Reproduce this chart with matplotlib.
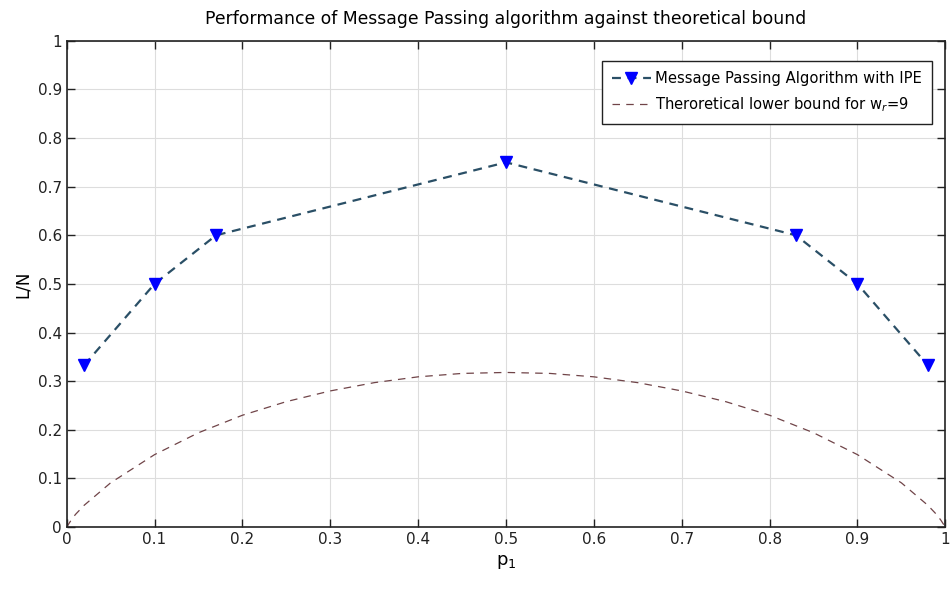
import matplotlib.pyplot as plt

# Message passing results
mp_p1 = [0.02, 0.1, 0.17, 0.5, 0.83, 0.9, 0.98]
mp_ln = [0.333, 0.5, 0.6, 0.75, 0.6, 0.5, 0.333]

# theoretical lower bound curve
tb_p1 = [0.0, 0.005, 0.01, 0.02, 0.05, 0.1, 0.15, 0.2, 0.25, 0.3, 0.35, 0.4, 0.45, 0.5,
         0.55, 0.6, 0.65, 0.7, 0.75, 0.8, 0.85, 0.9, 0.95, 0.98, 0.99, 0.995, 1.0]
tb_ln = [0.0, 0.014, 0.026, 0.045, 0.091, 0.149, 0.194, 0.230, 0.258, 0.280, 0.297, 0.309, 0.316, 0.318,
         0.316, 0.309, 0.297, 0.280, 0.258, 0.230, 0.194, 0.149, 0.091, 0.045, 0.026, 0.014, 0.0]

ticks = [0, 0.1, 0.2, 0.3, 0.4, 0.5, 0.6, 0.7, 0.8, 0.9, 1]
tick_labels = ['0', '0.1', '0.2', '0.3', '0.4', '0.5', '0.6', '0.7', '0.8', '0.9', '1']

fig = plt.figure(figsize=(9.52, 5.99), dpi=100)
ax = fig.add_axes([0.070, 0.120, 0.923, 0.812])

ax.plot(mp_p1, mp_ln, linestyle=(0, (4, 3)), color='#2a4f66', linewidth=1.6,
        marker='v', markersize=8, markerfacecolor='#0000ff', markeredgecolor='#0000ff',
        label='Message Passing Algorithm with IPE')
ax.plot(tb_p1, tb_ln, linestyle=(0, (6, 5)), color='#704448', linewidth=0.9,
        label='Theroretical lower bound for w$_r$=9')

ax.set_xlim(0, 1)
ax.set_ylim(0, 1)
ax.set_xticks(ticks)
ax.set_xticklabels(tick_labels)
ax.set_yticks(ticks)
ax.set_yticklabels(tick_labels)
ax.tick_params(direction='in', top=True, right=True, length=6, width=1, labelsize=11, colors='#222222')
ax.grid(True, color='#dddddd', linewidth=0.8)
for s in ax.spines.values():
    s.set_linewidth(1.2)
    s.set_color('#222222')

ax.set_xlabel('p$_1$', fontsize=13)
ax.set_ylabel('L/N', fontsize=12)
ax.set_title('Performance of Message Passing algorithm against theoretical bound', fontsize=12.4, pad=12)

leg = ax.legend(loc='upper right', bbox_to_anchor=(0.985, 0.959), fontsize=10.6, fancybox=False,
                framealpha=1, edgecolor='#222222', handlelength=2.6, borderpad=0.7, labelspacing=0.6,
                handletextpad=0.3, borderaxespad=0)
leg.get_frame().set_linewidth(1.0)

plt.savefig('out.png', dpi=100)
